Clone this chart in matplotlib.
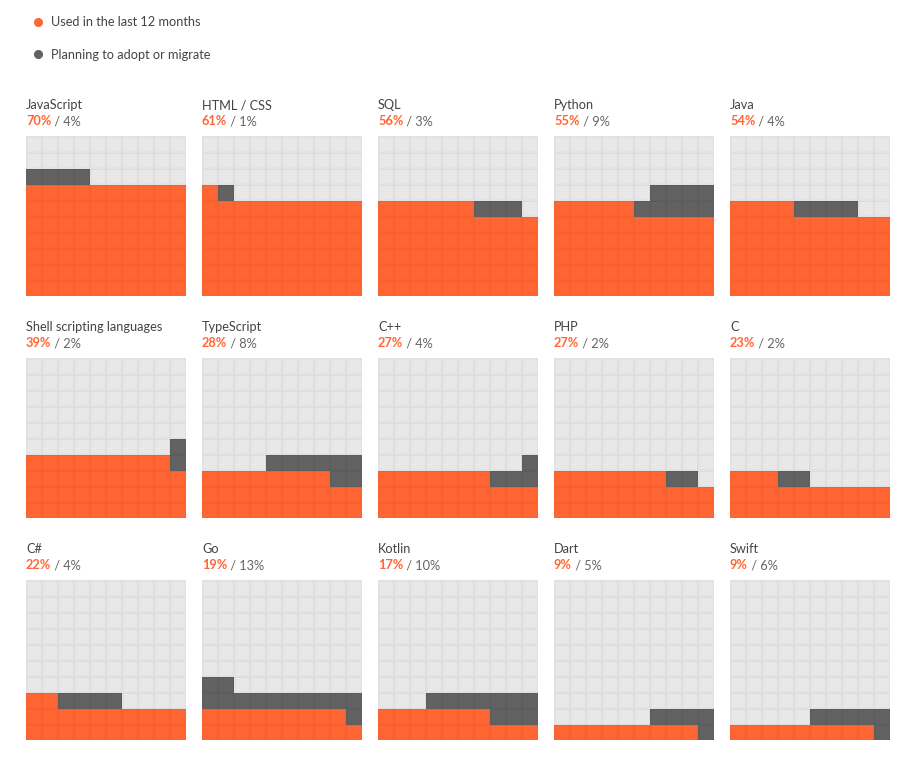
import numpy as np
import matplotlib
matplotlib.use("Agg")
import matplotlib.pyplot as plt
from matplotlib.colors import ListedColormap
from matplotlib.lines import Line2D

plt.rcParams['font.family'] = ['Lato', 'DejaVu Sans']

languages = ["JavaScript", "HTML / CSS", "SQL", "Python", "Java",
             "Shell scripting languages", "TypeScript", "C++", "PHP", "C",
             "C#", "Go", "Kotlin", "Dart", "Swift"]
used = [70, 61, 56, 55, 54, 39, 28, 27, 27, 23, 22, 19, 17, 9, 9]
planning = [4, 1, 3, 9, 4, 2, 8, 4, 2, 2, 4, 13, 10, 5, 6]
legend_labels = ["Used in the last 12 months", "Planning to adopt or migrate"]

ORANGE = "#ff6633"
DARK = "#626262"
LIGHT = "#e8e8e8"
TEXT = "#444444"
SUB = "#666666"

W, H = 919, 761
fig = plt.figure(figsize=(W / 100, H / 100), dpi=100)


def waffle_grid(u, p):
    """10x10 grid, row 0 at bottom. Used fills rows left to right,
    planning continues from there and snakes back on each new row."""
    grid = np.zeros((10, 10), dtype=int)
    for i in range(u):
        grid[i // 10, i % 10] = 1
    base = u // 10
    for j in range(p):
        k = u + j
        r = k // 10
        c = k % 10 if (r - base) % 2 == 0 else 9 - k % 10
        grid[r, c] = 2
    return grid


cmap = ListedColormap([LIGHT, ORANGE, DARK])
size = 160
for n, lang in enumerate(languages):
    row, col = divmod(n, 5)
    left = 26 + 176 * col
    top = 136 + 222 * row
    ax = fig.add_axes([left / W, (H - top - size) / H, size / W, size / H])
    grid = waffle_grid(used[n], planning[n])
    ax.pcolormesh(np.arange(11), np.arange(11), grid, cmap=cmap, vmin=-0.5, vmax=2.5,
                  edgecolors=(0, 0, 0, 0.022), linewidth=0.9)
    ax.set_xlim(0, 10)
    ax.set_ylim(0, 10)
    ax.axis('off')

    ax.annotate(lang, xy=(0, 1), xycoords='axes fraction', xytext=(0, 31),
                textcoords='offset pixels', fontsize=9.2, color=TEXT, va='center')
    t1 = ax.annotate(f"{used[n]}%", xy=(0, 1), xycoords='axes fraction', xytext=(0, 15),
                     textcoords='offset pixels', fontsize=9.2, color=ORANGE,
                     fontweight='bold', va='center')
    ax.annotate(f" / {planning[n]}%", xy=(1, 0.5), xycoords=t1, va='center',
                fontsize=9.2, color=SUB)

handles = [Line2D([], [], marker='o', linestyle='', color=ORANGE, markersize=5.5),
           Line2D([], [], marker='o', linestyle='', color=DARK, markersize=5.5)]
leg = fig.legend(handles, legend_labels, loc='upper left',
                 bbox_to_anchor=(33 / W, 1 - 16 / H), frameon=False,
                 fontsize=9.2, labelspacing=1.62, handlelength=0.8,
                 handletextpad=0.6, borderaxespad=0, borderpad=0)
for t in leg.get_texts():
    t.set_color(TEXT)

fig.savefig("out.png", dpi=100)
